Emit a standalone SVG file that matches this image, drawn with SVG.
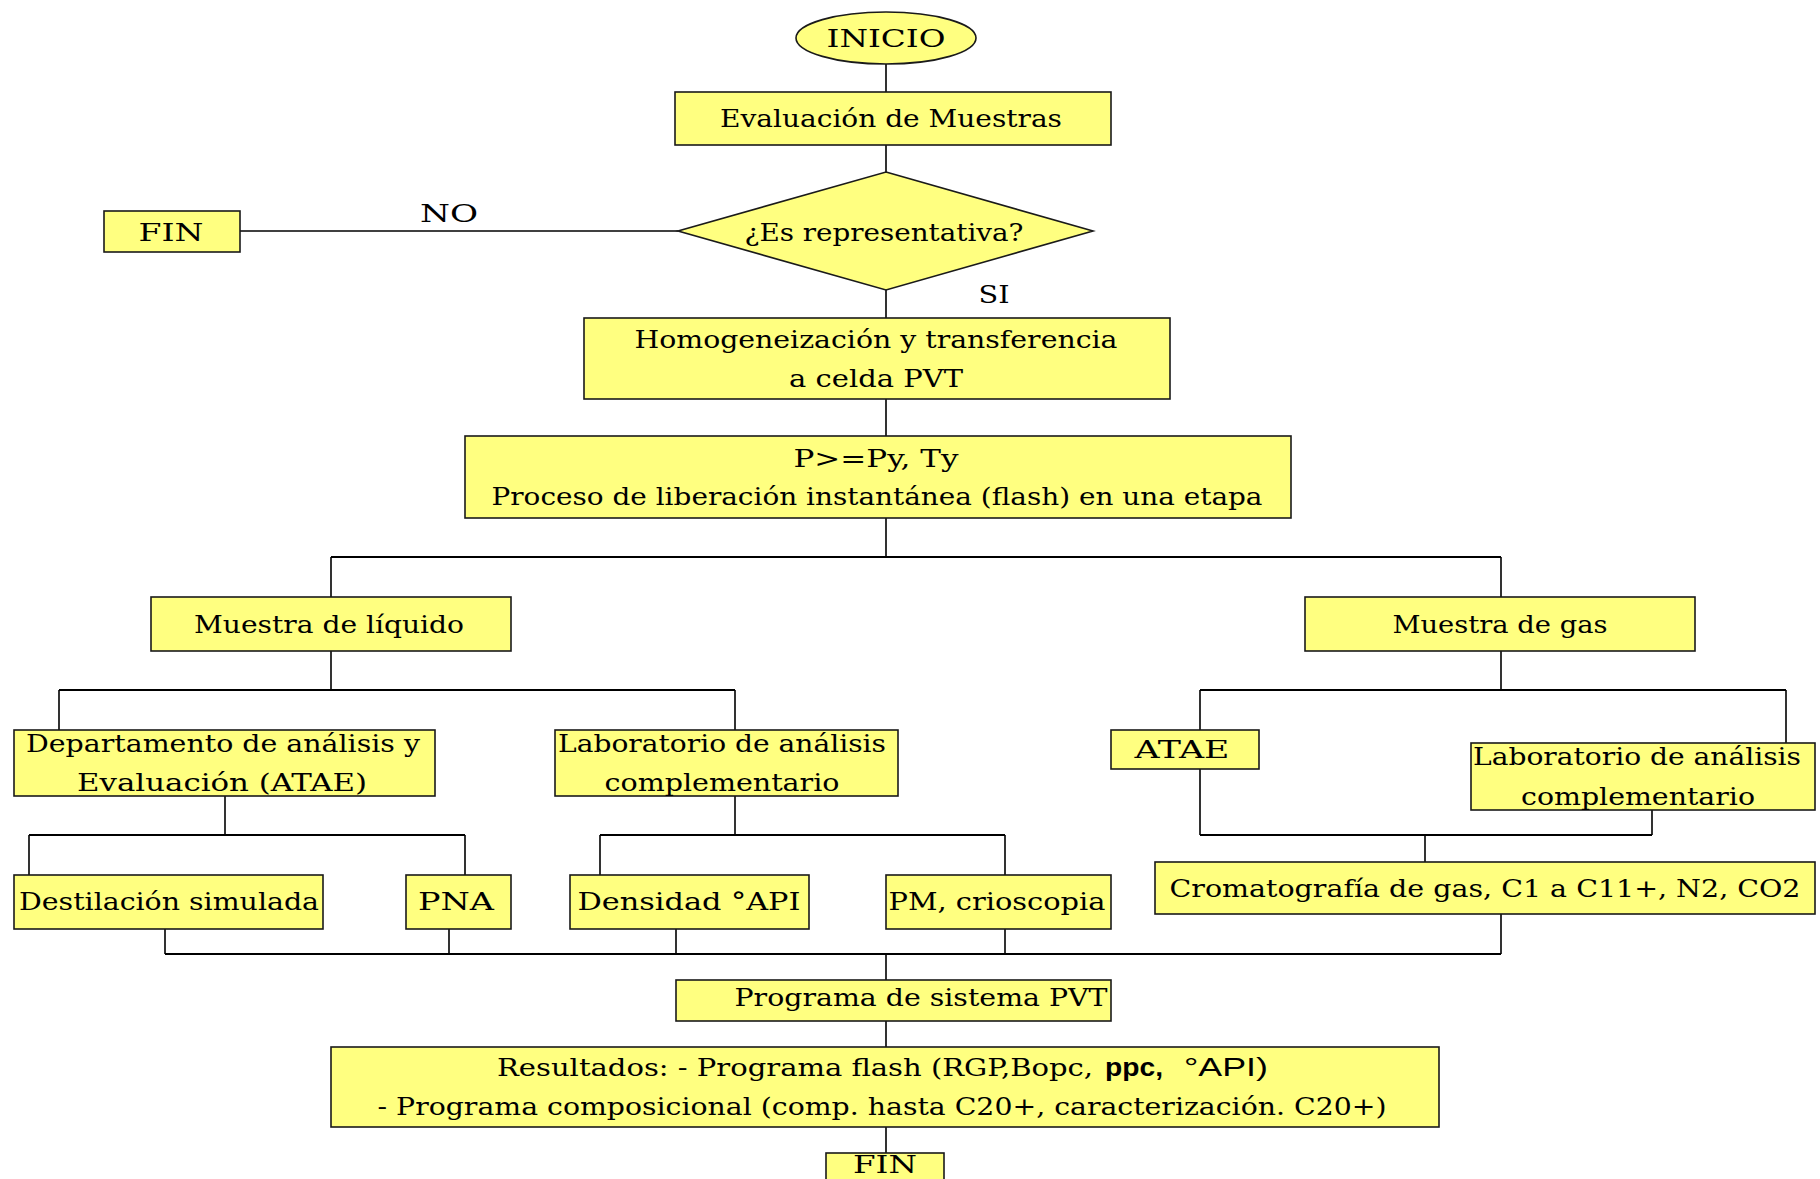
<svg xmlns="http://www.w3.org/2000/svg" width="1820" height="1179" viewBox="0 0 1820 1179">
  <style>
    .box { fill: #FFFF80; stroke: #1a1a1a; stroke-width: 1.6; }
    .wire { fill: none; stroke: #000; stroke-width: 1.6; }
    .bus { fill: none; stroke: #000; stroke-width: 2; }
    text { font-family: "DejaVu Serif", "Liberation Serif", serif; font-size: 25px; fill: #000; text-anchor: middle; }
    .sans { font-family: "Liberation Sans", Arial, sans-serif; }
  </style>
  <rect x="0" y="0" width="1820" height="1179" fill="#fff"/>

  <!-- connectors -->
  <g id="connectors">
    <path class="wire" d="M886 64 V92 M886 145 V172 M886 290 V318 M886 399 V436 M886 518 V557"/>
    <path class="wire" d="M240 231 H678"/>
    <path class="bus" d="M331 557 H1501"/>
    <path class="wire" d="M331 557 V597 M1501 557 V597"/>
    <!-- liquid branch -->
    <path class="wire" d="M331 651 V690"/>
    <path class="bus" d="M59 690 H735"/>
    <path class="wire" d="M59 690 V730 M735 690 V730"/>
    <path class="wire" d="M225 796 V835"/>
    <path class="bus" d="M29 835 H465"/>
    <path class="wire" d="M29 835 V875 M465 835 V875"/>
    <path class="wire" d="M735 796 V835"/>
    <path class="bus" d="M600 835 H1005"/>
    <path class="wire" d="M600 835 V875 M1005 835 V875"/>
    <!-- gas branch -->
    <path class="wire" d="M1501 651 V690"/>
    <path class="bus" d="M1200 690 H1786"/>
    <path class="wire" d="M1200 690 V730 M1786 690 V743"/>
    <path class="wire" d="M1200 769 V835 M1652 810 V835"/>
    <path class="bus" d="M1200 835 H1652"/>
    <path class="wire" d="M1425 835 V862"/>
    <!-- collector -->
    <path class="wire" d="M165 929 V954 M449 929 V954 M676 929 V954 M1005 929 V954 M1501 914 V954"/>
    <path class="bus" d="M165 954 H1501"/>
    <path class="wire" d="M886 954 V980 M886 1021 V1047 M886 1127 V1153"/>
  </g>

  <!-- labels on the decision branches -->
  <g id="branch-labels">
    <text x="449" y="222" textLength="58" lengthAdjust="spacingAndGlyphs">NO</text>
    <text x="994" y="303" textLength="31" lengthAdjust="spacingAndGlyphs">SI</text>
  </g>

  <g id="inicio">
    <ellipse class="box" cx="886" cy="38" rx="90" ry="26"/>
    <text x="886" y="47" textLength="119" lengthAdjust="spacingAndGlyphs">INICIO</text>
  </g>

  <g id="evaluacion">
    <rect class="box" x="675" y="92" width="436" height="53"/>
    <text x="891" y="127" textLength="342" lengthAdjust="spacingAndGlyphs">Evaluación de Muestras</text>
  </g>

  <g id="decision">
    <polygon class="box" points="886,172 1093,231 886,290 678,231"/>
    <text x="884" y="241" textLength="279" lengthAdjust="spacingAndGlyphs">¿Es representativa?</text>
  </g>

  <g id="fin-no">
    <rect class="box" x="104" y="211" width="136" height="41"/>
    <text x="171" y="241" textLength="65" lengthAdjust="spacingAndGlyphs">FIN</text>
  </g>

  <g id="homogeneizacion">
    <rect class="box" x="584" y="318" width="586" height="81"/>
    <text x="876" y="348" textLength="483" lengthAdjust="spacingAndGlyphs">Homogeneización y transferencia</text>
    <text x="876" y="387" textLength="174" lengthAdjust="spacingAndGlyphs">a celda PVT</text>
  </g>

  <g id="flash">
    <rect class="box" x="465" y="436" width="826" height="82"/>
    <text x="876" y="467" textLength="165" lengthAdjust="spacingAndGlyphs">P&gt;=Py, Ty</text>
    <text x="877" y="505" textLength="771" lengthAdjust="spacingAndGlyphs">Proceso de liberación instantánea (flash) en una etapa</text>
  </g>

  <g id="muestra-liquido">
    <rect class="box" x="151" y="597" width="360" height="54"/>
    <text x="329" y="633" textLength="270" lengthAdjust="spacingAndGlyphs">Muestra de líquido</text>
  </g>

  <g id="muestra-gas">
    <rect class="box" x="1305" y="597" width="390" height="54"/>
    <text x="1500" y="633" textLength="215" lengthAdjust="spacingAndGlyphs">Muestra de gas</text>
  </g>

  <g id="departamento">
    <rect class="box" x="14" y="730" width="421" height="66"/>
    <text x="223" y="752" textLength="394" lengthAdjust="spacingAndGlyphs">Departamento de análisis y</text>
    <text x="222" y="791" textLength="290" lengthAdjust="spacingAndGlyphs">Evaluación (ATAE)</text>
  </g>

  <g id="laboratorio-liquido">
    <rect class="box" x="555" y="730" width="343" height="66"/>
    <text x="722" y="752" textLength="328" lengthAdjust="spacingAndGlyphs">Laboratorio de análisis</text>
    <text x="722" y="791" textLength="235" lengthAdjust="spacingAndGlyphs">complementario</text>
  </g>

  <g id="atae">
    <rect class="box" x="1111" y="730" width="148" height="39"/>
    <text x="1182" y="758" textLength="95" lengthAdjust="spacingAndGlyphs">ATAE</text>
  </g>

  <g id="laboratorio-gas">
    <rect class="box" x="1471" y="743" width="344" height="67"/>
    <text x="1637" y="765" textLength="328" lengthAdjust="spacingAndGlyphs">Laboratorio de análisis</text>
    <text x="1638" y="805" textLength="234" lengthAdjust="spacingAndGlyphs">complementario</text>
  </g>

  <g id="destilacion">
    <rect class="box" x="14" y="875" width="309" height="54"/>
    <text x="169" y="910" textLength="300" lengthAdjust="spacingAndGlyphs">Destilación simulada</text>
  </g>

  <g id="pna">
    <rect class="box" x="406" y="875" width="105" height="54"/>
    <text x="456" y="910" textLength="76" lengthAdjust="spacingAndGlyphs">PNA</text>
  </g>

  <g id="densidad">
    <rect class="box" x="570" y="875" width="239" height="54"/>
    <text x="689" y="910" textLength="223" lengthAdjust="spacingAndGlyphs">Densidad °API</text>
  </g>

  <g id="pm">
    <rect class="box" x="886" y="875" width="225" height="54"/>
    <text x="997" y="910" textLength="217" lengthAdjust="spacingAndGlyphs">PM, crioscopia</text>
  </g>

  <g id="cromatografia">
    <rect class="box" x="1155" y="862" width="660" height="52"/>
    <text x="1485" y="897" textLength="631" lengthAdjust="spacingAndGlyphs">Cromatografía de gas, C1 a C11+, N2, CO2</text>
  </g>

  <g id="programa-pvt">
    <rect class="box" x="676" y="980" width="435" height="41"/>
    <text x="921" y="1006" textLength="373" lengthAdjust="spacingAndGlyphs">Programa de sistema PVT</text>
  </g>

  <g id="resultados">
    <rect class="box" x="331" y="1047" width="1108" height="80"/>
    <text x="795" y="1076" textLength="596" lengthAdjust="spacingAndGlyphs">Resultados: - Programa flash (RGP,Bopc,</text>
    <text class="sans" x="1134" y="1076" font-weight="bold" textLength="58" lengthAdjust="spacingAndGlyphs">ppc,</text>
    <text class="sans" x="1226" y="1076" textLength="84" lengthAdjust="spacingAndGlyphs">°API)</text>
    <text x="882" y="1115" textLength="1009" lengthAdjust="spacingAndGlyphs">- Programa composicional (comp. hasta C20+, caracterización. C20+)</text>
  </g>

  <g id="fin">
    <rect class="box" x="826" y="1153" width="118" height="40"/>
    <text x="885" y="1173" font-size="23" textLength="64" lengthAdjust="spacingAndGlyphs">FIN</text>
  </g>
</svg>
